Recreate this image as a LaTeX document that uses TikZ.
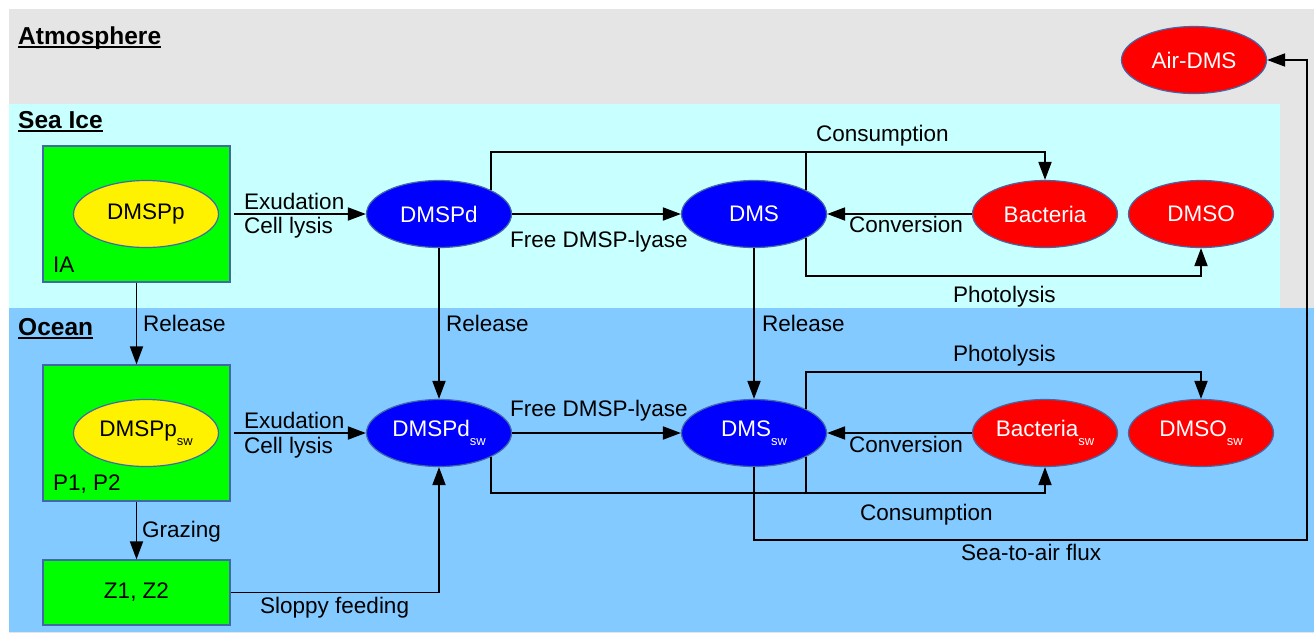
\documentclass[tikz,border=0pt]{standalone}
\usepackage{fontspec}
\setmainfont{Liberation Sans}
\usetikzlibrary{arrows.meta,shapes.geometric}
\definecolor{atmo}{RGB}{229,229,229}
\definecolor{seaice}{RGB}{200,255,255}
\definecolor{ocean}{RGB}{130,202,255}
\definecolor{edgeblue}{RGB}{65,105,170}
\newcommand\lblfont{\fontsize{22.5}{27}\selectfont}
\newcommand\headfont{\fontsize{24.5}{29}\selectfont\bfseries}
\newcommand\swsub{\raisebox{-9pt}{\fontsize{13}{13}\selectfont sw}}

\begin{document}
\begin{tikzpicture}[x=1pt,y=-1pt,
  lbl/.style={font=\lblfont, inner sep=0pt, anchor=base west},
  head/.style={font=\headfont, inner sep=0pt, anchor=base west},
  uline/.style={line width=2pt},
  box/.style={draw=edgeblue, line width=1.2pt, fill=green, inner sep=0pt, font=\lblfont},
  ell/.style={ellipse, draw=edgeblue, line width=1.2pt, minimum width=145pt, minimum height=67pt, inner sep=0pt, font=\lblfont},
  yel/.style={ell, fill=yellow, text=black},
  blu/.style={ell, fill=blue, text=white},
  rd/.style={ell, fill=red, text=white},
  ln/.style={line width=1.8pt},
  arr/.style={line width=1.8pt, -{Triangle[length=18pt,width=13pt]}}
]
\useasboundingbox (0,0) rectangle (1314,633);
\fill[white] (0,0) rectangle (1314,633);

% compartments
\fill[atmo] (9,9) rectangle (1314,633);
\fill[seaice] (9,104) rectangle (1280,308);
\fill[ocean] (9,308) rectangle (1314,632);

% compartment headings
\node[head] (hatm) at (18,44) {Atmosphere};
\draw[uline] ([yshift=-3pt]hatm.base west) -- ([yshift=-3pt]hatm.base east);
\node[head] (hice) at (18,128) {Sea Ice};
\draw[uline] ([yshift=-3pt]hice.base west) -- ([yshift=-3pt]hice.base east);
\node[head] (hocn) at (18,335) {Ocean};
\draw[uline] ([yshift=-3pt]hocn.base west) -- ([yshift=-3pt]hocn.base east);

% algae and zooplankton boxes
\node[box, minimum width=187pt, minimum height=136pt] (ia) at (136.5,214) {};
\node[box, minimum width=187pt, minimum height=136pt] (p) at (136.5,433) {};
\node[box, minimum width=187pt, minimum height=65pt] (z) at (136.5,592.5) {Z1, Z2};
\node[lbl] (iatxt) at (53,272) {IA};
\node[lbl] (ptxt) at (53,490) {P1, P2};

% sea ice pools
\node[yel] (dmspp) at (146,214) {DMSPp};
\node[blu] (dmspd) at (439,214) {DMSPd};
\node[blu] (dms) at (754,214) {DMS};
\node[rd] (bact) at (1045,214) {Bacteria};
\node[rd] (dmso) at (1201,214) {DMSO};

% ocean pools
\node[yel] (dmsppsw) at (146,433) {DMSPp\swsub};
\node[blu] (dmspdsw) at (439,433) {DMSPd\swsub};
\node[blu] (dmssw) at (754,433) {DMS\swsub};
\node[rd] (bactsw) at (1045,433) {Bacteria\swsub};
\node[rd] (dmsosw) at (1201,433) {DMSO\swsub};

% atmosphere
\node[rd] (airdms) at (1194,60) {Air-DMS};

% routing points
\coordinate (cons) at (1045,152);
\coordinate (phot) at (1201,276);
\coordinate (photsw) at (1201,372);
\coordinate (conssw) at (1045,493);
\coordinate (flux) at (1307,540);

% sea ice fluxes
\draw[arr, shorten <=3pt] (ia.east) -- (dmspd.west);
\draw[arr] (dmspd.east) -- (dms.west);
\draw[arr] (dmspd.north east) |- (cons) -- (bact.north);
\draw[ln] (dms.north east) -- (dms.north east |- cons);
\draw[arr] (bact.west) -- (dms.east);
\draw[arr] (dms.south east) |- (phot) -- (dmso.south);

% sea ice to ocean
\draw[arr] (ia.south) -- (p.north);
\draw[arr] (dmspd.south) -- (dmspdsw.north);
\draw[arr] (dms.south) -- (dmssw.north);

% ocean fluxes
\draw[arr, shorten <=3pt] (p.east) -- (dmspdsw.west);
\draw[arr] (p.south) -- (z.north);
\draw[arr] (z.east) -| (dmspdsw.south);
\draw[arr] (dmspdsw.east) -- (dmssw.west);
\draw[arr] (dmssw.north east) |- (photsw) -- (dmsosw.north);
\draw[arr] (bactsw.west) -- (dmssw.east);
\draw[arr] (dmspdsw.south east) |- (conssw) -- (bactsw.south);
\draw[ln] (dmssw.south east) -- (dmssw.south east |- conssw);
\draw[arr] (dmssw.south) |- (flux) |- (airdms.east);

% flux labels
\node[lbl] (lex1) at (244,209) {Exudation};
\node[lbl] (lcl1) at (244,233) {Cell lysis};
\node[lbl] (lfl1) at (510,247) {Free DMSP-lyase};
\node[lbl] (lcs1) at (816,141) {Consumption};
\node[lbl] (lcv1) at (849,232) {Conversion};
\node[lbl] (lph1) at (953,302) {Photolysis};
\node[lbl] (lrl1) at (143,331) {Release};
\node[lbl] (lrl2) at (446,331) {Release};
\node[lbl] (lrl3) at (762,331) {Release};
\node[lbl] (lex2) at (244,428) {Exudation};
\node[lbl] (lcl2) at (244,453) {Cell lysis};
\node[lbl] (lfl2) at (510,416) {Free DMSP-lyase};
\node[lbl] (lph2) at (953,361) {Photolysis};
\node[lbl] (lcv2) at (849,452) {Conversion};
\node[lbl] (lcs2) at (860,520) {Consumption};
\node[lbl] (lsa) at (961,560) {Sea-to-air flux};
\node[lbl] (lgr) at (142,537) {Grazing};
\node[lbl] (lsf) at (260,613) {Sloppy feeding};
\end{tikzpicture}
\end{document}
